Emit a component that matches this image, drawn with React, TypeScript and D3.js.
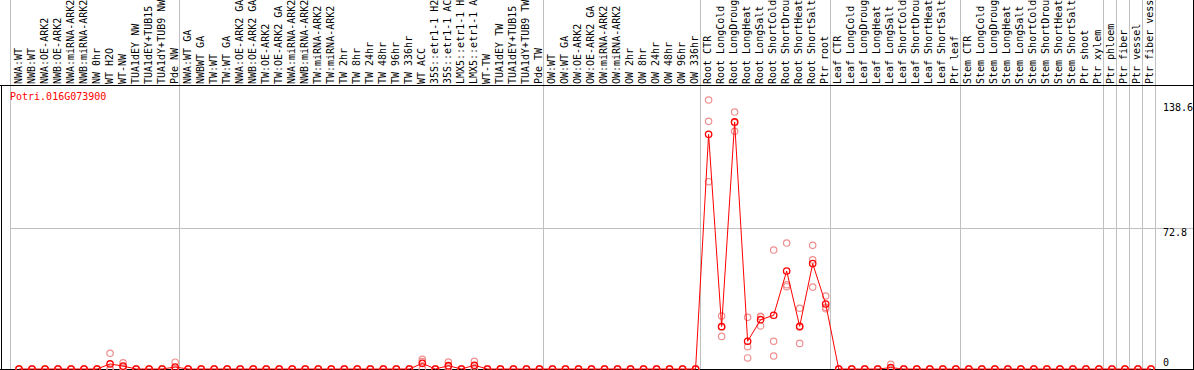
import React from "react";
import * as d3 from "d3";

const geneTitle = "Potri.016G073900";

const sampleLabels: string[] = [
  "NWA:WT", "NWB:WT", "NWA:OE-ARK2", "NWB:OE-ARK2", "NWA:miRNA-ARK2", "NWB:miRNA-ARK2", "NW 0hr", "WT H2O", "WT-NW", "TUA1dEY NW", "TUA1dEY+TUB15 NW", "TUA1dY+TUB9 NW", "Pde NW",
  "NWA:WT GA", "NWBWT GA", "TW:WT", "TW:WT GA", "NWA:OE-ARK2 GA", "NWB:OE-ARK2 GA", "TW:OE-ARK2", "TW:OE-ARK2 GA", "NWA:miRNA-ARK2 GA", "NWB:miRNA-ARK2 GA", "TW:miRNA-ARK2", "TW:miRNA-ARK2 GA", "TW 2hr", "TW 8hr", "TW 24hr", "TW 48hr", "TW 96hr", "TW 336hr", "WT ACC", "35S::etr1-1 H2O", "35S::etr1-1 ACC", "LMX5::etr1-1 H2O", "LMX5::etr1-1 ACC", "WT-TW", "TUA1dEY TW", "TUA1dEY+TUB15 TW", "TUA1dY+TUB9 TW", "Pde TW",
  "OW:WT", "OW:WT GA", "OW:OE-ARK2", "OW:OE-ARK2 GA", "OW:miRNA-ARK2", "OW:miRNA-ARK2 GA", "OW 2hr", "OW 8hr", "OW 24hr", "OW 48hr", "OW 96hr", "OW 336hr",
  "Root CTR", "Root LongCold", "Root LongDrought", "Root LongHeat", "Root LongSalt", "Root ShortCold", "Root ShortDrought", "Root ShortHeat", "Root ShortSalt", "Ptr root",
  "Leaf CTR", "Leaf LongCold", "Leaf LongDrought", "Leaf LongHeat", "Leaf LongSalt", "Leaf ShortCold", "Leaf ShortDrought", "Leaf ShortHeat", "Leaf ShortSalt", "Ptr leaf",
  "Stem CTR", "Stem LongCold", "Stem LongDrought", "Stem LongHeat", "Stem LongSalt", "Stem ShortCold", "Stem ShortDrought", "Stem ShortHeat", "Stem ShortSalt", "Ptr shoot", "Ptr xylem",
  "Ptr phloem", "Ptr fiber", "Ptr vessel", "Ptr fiber vessel",
];

// group boundaries (index of first sample of each group after the first)
const groupStarts: number[] = [0, 13, 41, 53, 63, 73, 84, 85, 86, 87, 88];

const meanValues: number[] = [
  0, 0, 0, 0, 0, 0, 0, 2.6, 1.5, 0, 0, 0, 1.0,
  0, 0, 0, 0, 0, 0, 0, 0, 0, 0, 0, 0, 0, 0, 0, 0, 0, 0, 2.9, 0, 1.7, 0, 1.9, 0, 0, 0, 0, 0,
  0, 0, 0, 0, 0, 0, 0, 0, 0, 0, 0, 0,
  120.9, 21.9, 127.3, 14.3, 25.4, 27.7, 50.5, 22.0, 54.3, 33.5,
  0, 0, 0, 0, 0.7, 0, 0, 0, 0, 0,
  0, 0, 0, 0, 0, 0, 0, 0, 0, 0, 0,
  0, 0, 0, 0,
];

const replicateValues: number[][] = [
  [0, 0, 0], [0, 0, 0], [0, 0, 0], [0, 0, 0], [0, 0, 0], [0, 0, 0], [0, 0, 0], [8.1, 0, 0], [3.2, 1.0, 0.3], [0, 0, 0], [0, 0, 0], [0, 0, 0], [3.5, 0, 0],
  [0, 0, 0], [0, 0, 0], [0, 0, 0], [0, 0, 0], [0, 0, 0], [0, 0, 0], [0, 0, 0], [0, 0, 0], [0, 0, 0], [0, 0, 0], [0, 0, 0], [0, 0, 0], [0, 0, 0], [0, 0, 0], [0, 0, 0], [0, 0, 0], [0, 0, 0], [0, 0, 0], [5.0, 3.8, 0], [0, 0, 0], [3.6, 1.4, 0], [0, 0, 0], [4.0, 1.6, 0], [0, 0, 0], [0, 0, 0], [0, 0, 0], [0, 0, 0], [0, 0, 0],
  [0, 0, 0], [0, 0, 0], [0, 0, 0], [0, 0, 0], [0, 0, 0], [0, 0, 0], [0, 0, 0], [0, 0, 0], [0, 0, 0], [0, 0, 0], [0, 0, 0], [0, 0, 0],
  [138.6, 127.6, 96.5], [27.3, 16.8, 21.5], [132.4, 122.5, 127.0], [26.6, 11.5, 5.7], [26.9, 22.2, 27.1], [61.3, 14.3, 6.7], [64.9, 43.4, 42.4], [31.3, 13.2, 21.5], [63.7, 56.2, 42.2], [37.6, 31.1, 31.8],
  [0, 0, 0], [0, 0, 0], [0, 0, 0], [0, 0, 0], [2.4, 0, 0], [0, 0, 0], [0, 0, 0], [0, 0, 0], [0, 0, 0], [0, 0, 0],
  [0, 0, 0], [0, 0, 0], [0, 0, 0], [0, 0, 0], [0, 0, 0], [0, 0, 0], [0, 0, 0], [0, 0, 0], [0, 0, 0], [0, 0, 0], [0, 0, 0],
  [0, 0, 0], [0, 0, 0], [0, 0, 0], [0, 0, 0],
];

const yTickValues: number[] = [138.6, 72.8, 0];
const yMax = 138.6;
const gridValues: number[] = [72.8];

const W = 1194;
const H = 370;
const FONT = "'DejaVu Sans Mono', 'Liberation Mono', monospace";

export default function App() {
  const plotLeft = 10;
  const plotRight = 1155;
  const headerBottom = 85;
  const x = d3
    .scaleBand<number>()
    .domain(d3.range(sampleLabels.length))
    .range([plotLeft, plotRight])
    .paddingInner(0)
    .paddingOuter(0);
  const bw = x.bandwidth();
  const px = (i: number) => (x(i) as number) + 9;
  const y = d3.scaleLinear().domain([0, yMax]).range([369, 100]);

  const line = d3
    .line<number>()
    .x((_, i) => px(i))
    .y((d) => y(d));

  const boundaryX = (n: number) => (n >= sampleLabels.length ? plotRight : (x(n) as number));

  return (
    <svg
      width={W}
      height={H}
      style={{ position: "absolute", left: 0, top: 0, background: "#fff" }}
      fontFamily={FONT}
    >
      <rect x={0} y={0} width={W} height={H} fill="#fff" />
      {/* group separators */}
      {groupStarts.map((g) => {
        const gx = Math.round(boundaryX(g)) + 0.5;
        return <line key={"g" + g} x1={gx} x2={gx} y1={0} y2={H} stroke="#c0c0c0" strokeWidth={1} />;
      })}
      {/* grid */}
      {gridValues.map((v) => (
        <line key={"gr" + v} x1={plotLeft} x2={1193} y1={Math.round(y(v)) + 0.5} y2={Math.round(y(v)) + 0.5} stroke="#c0c0c0" />
      ))}
      {/* frame */}
      <line x1={0} x2={1194} y1={headerBottom + 0.5} y2={headerBottom + 0.5} stroke="#000" />
      <line x1={1.5} x2={1.5} y1={headerBottom} y2={H} stroke="#000" />
      <line x1={1193.5} x2={1193.5} y1={0} y2={H} stroke="#000" />
      <line x1={0} x2={1194} y1={369.5} y2={369.5} stroke="#000" />
      {/* sample labels */}
      {sampleLabels.map((lab, i) => (
        <text
          key={"l" + i}
          transform={`translate(${px(i) + 2.5},84) rotate(-90)`}
          fontSize={10}
          fill="#000"
        >
          {lab}
        </text>
      ))}
      {/* title */}
      <text x={10} y={100} fontSize={10} fill="#ff0000">
        {geneTitle}
      </text>
      {/* y tick labels */}
      {yTickValues.map((v, i) => (
        <text key={"t" + i} x={1163} y={i === 0 ? 111 : i === 1 ? 236 : 366} fontSize={10} fill="#000">
          {v === 0 ? "0" : v.toString()}
        </text>
      ))}
      {/* replicates */}
      {replicateValues.map((reps, i) =>
        reps.map((v, j) => (
          <circle key={`r${i}-${j}`} cx={px(i)} cy={y(v)} r={3.2} fill="none" stroke="#ee8f8f" strokeWidth={1.2} />
        ))
      )}
      {/* mean line */}
      <path d={line(meanValues) || ""} fill="none" stroke="#ff0000" strokeWidth={1} />
      {meanValues.map((v, i) => (
        <circle key={"m" + i} cx={px(i)} cy={y(v)} r={3.2} fill="none" stroke="#ff0000" strokeWidth={1.3} />
      ))}
    </svg>
  );
}
